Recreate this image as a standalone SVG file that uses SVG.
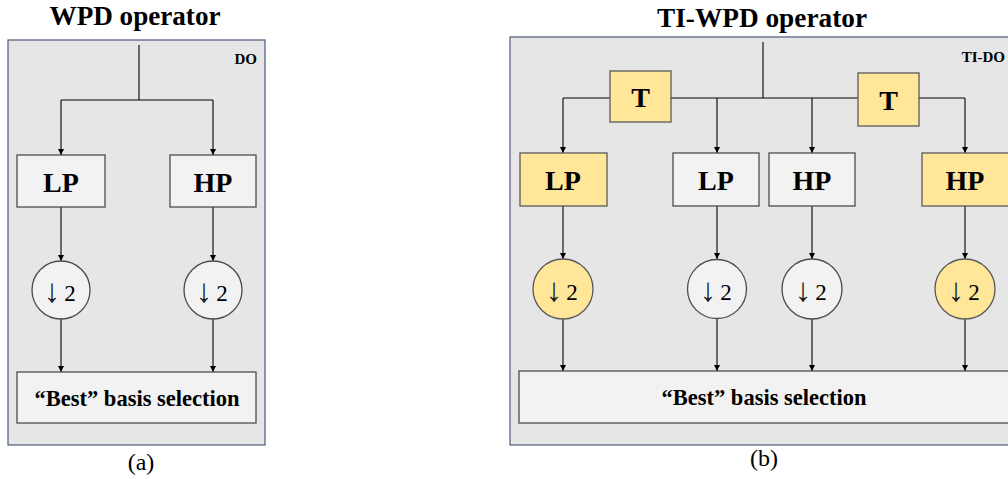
<svg xmlns="http://www.w3.org/2000/svg" width="1008" height="479" viewBox="0 0 1008 479">
<style>
.panel{fill:#e6e6e6;stroke:#4a5a78;stroke-width:1.2}
.box{fill:#f2f2f2;stroke:#4d4d4d;stroke-width:1.3}
.ybox{fill:#ffe699;stroke:#595959;stroke-width:1.3}
.title{font-family:"Liberation Serif","Times New Roman",serif;font-weight:bold;font-size:28px;text-anchor:middle;fill:#000}
.lbl{font-family:"Liberation Serif","Times New Roman",serif;font-weight:bold;font-size:28px;text-anchor:middle;fill:#000}
.two{font-family:"Liberation Serif","Times New Roman",serif;font-size:23px;text-anchor:middle;fill:#000}
.arr{font-family:"Liberation Serif","Times New Roman",serif;font-size:33px;text-anchor:middle;fill:#1a1a1a}
.bs{font-family:"Liberation Serif","Times New Roman",serif;font-weight:bold;font-size:22.5px;text-anchor:middle;fill:#000}
.cap{font-family:"Liberation Serif","Times New Roman",serif;font-size:24px;text-anchor:middle;fill:#000}
.tag{font-family:"Liberation Serif","Times New Roman",serif;font-weight:bold;font-size:15px;text-anchor:end;fill:#000}
.ln{fill:none;stroke:#000;stroke-width:1.1}
</style>
<defs>
<marker id="ah" viewBox="0 0 10 10" refX="10" refY="5" markerWidth="6" markerHeight="6" markerUnits="userSpaceOnUse" orient="auto">
<path d="M0,0 L10,5 L0,10 z" fill="#000"/>
</marker>
</defs>

<!-- Panel (a) -->
<g id="panelA">
<rect class="panel" x="8" y="40" width="257" height="405"/>
<text class="title" x="135" y="25" textLength="171" lengthAdjust="spacingAndGlyphs">WPD operator</text>
<text class="tag" x="257" y="64">DO</text>
<text class="cap" x="141" y="470">(a)</text>
</g>

<!-- Panel (b) -->
<g id="panelB">
<rect class="panel" x="510" y="37" width="510" height="408"/>
<text class="title" x="762" y="27" textLength="210" lengthAdjust="spacingAndGlyphs">TI-WPD operator</text>
<text class="tag" x="1005" y="62">TI-DO</text>
<text class="cap" x="764" y="466">(b)</text>
</g>

<!-- Connectors -->
<g id="connectors">
<!-- (a) -->
<path class="ln" d="M139,45 V100 M61,100 H213"/>
<path class="ln" d="M61,100 V155" marker-end="url(#ah)"/>
<path class="ln" d="M213,100 V155" marker-end="url(#ah)"/>
<path class="ln" d="M61,207 V261" marker-end="url(#ah)"/>
<path class="ln" d="M213,207 V261" marker-end="url(#ah)"/>
<path class="ln" d="M61,319 V372" marker-end="url(#ah)"/>
<path class="ln" d="M213,319 V372" marker-end="url(#ah)"/>
<!-- (b) -->
<path class="ln" d="M763,42 V98 M563,98 H965"/>
<path class="ln" d="M563,98 V153" marker-end="url(#ah)"/>
<path class="ln" d="M717,98 V153" marker-end="url(#ah)"/>
<path class="ln" d="M812,98 V153" marker-end="url(#ah)"/>
<path class="ln" d="M965,98 V153" marker-end="url(#ah)"/>
<path class="ln" d="M563,206 V259" marker-end="url(#ah)"/>
<path class="ln" d="M717,206 V259" marker-end="url(#ah)"/>
<path class="ln" d="M812,206 V259" marker-end="url(#ah)"/>
<path class="ln" d="M965,206 V259" marker-end="url(#ah)"/>
<path class="ln" d="M563,318 V371" marker-end="url(#ah)"/>
<path class="ln" d="M717,318 V371" marker-end="url(#ah)"/>
<path class="ln" d="M812,318 V371" marker-end="url(#ah)"/>
<path class="ln" d="M965,318 V371" marker-end="url(#ah)"/>
</g>

<!-- Nodes (a) -->
<g id="a_lp"><rect class="box" x="17" y="155" width="88" height="52"/><text class="lbl" x="61" y="192">LP</text></g>
<g id="a_hp"><rect class="box" x="170" y="155" width="86" height="52"/><text class="lbl" x="213" y="192">HP</text></g>
<g id="a_ds1"><circle class="box" cx="61" cy="290" r="29"/><text class="arr" x="52" y="302">↓</text><text class="two" x="70" y="301">2</text></g>
<g id="a_ds2"><circle class="box" cx="213" cy="290" r="29"/><text class="arr" x="204" y="302">↓</text><text class="two" x="222" y="301">2</text></g>
<g id="a_best"><rect class="box" x="17" y="372" width="239" height="51"/><text class="bs" x="137" y="406">“Best” basis selection</text></g>

<!-- Nodes (b) -->
<g id="b_t1"><rect class="ybox" x="610" y="71" width="61" height="51"/><text class="lbl" x="640.5" y="107">T</text></g>
<g id="b_t2"><rect class="ybox" x="858" y="73" width="61" height="53"/><text class="lbl" x="888.5" y="110">T</text></g>
<g id="b_lp1"><rect class="ybox" x="520" y="153" width="87" height="53"/><text class="lbl" x="563" y="190">LP</text></g>
<g id="b_lp2"><rect class="box" x="673" y="153" width="86" height="53"/><text class="lbl" x="716" y="190">LP</text></g>
<g id="b_hp1"><rect class="box" x="769" y="153" width="86" height="53"/><text class="lbl" x="812" y="190">HP</text></g>
<g id="b_hp2"><rect class="ybox" x="922" y="153" width="87" height="53"/><text class="lbl" x="965" y="190">HP</text></g>
<g id="b_ds1"><circle class="ybox" cx="563" cy="289" r="30"/><text class="arr" x="554" y="301">↓</text><text class="two" x="572" y="300">2</text></g>
<g id="b_ds2"><circle class="box" cx="717" cy="289" r="29.5"/><text class="arr" x="708" y="301">↓</text><text class="two" x="726" y="300">2</text></g>
<g id="b_ds3"><circle class="box" cx="812" cy="289" r="30"/><text class="arr" x="803" y="301">↓</text><text class="two" x="821" y="300">2</text></g>
<g id="b_ds4"><circle class="ybox" cx="965" cy="289" r="30"/><text class="arr" x="956" y="301">↓</text><text class="two" x="974" y="300">2</text></g>
<g id="b_best"><rect class="box" x="519" y="371" width="495" height="52"/><text class="bs" x="764" y="405">“Best” basis selection</text></g>
</svg>
